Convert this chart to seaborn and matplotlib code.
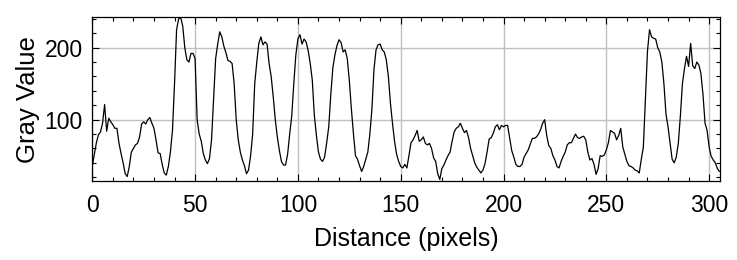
import matplotlib
matplotlib.use("Agg")
import matplotlib.pyplot as plt
from matplotlib.ticker import MultipleLocator
import numpy as np
import pandas as pd
import seaborn as sns

# профиль яркости вдоль линии
gray_values = [
    35, 52, 68, 79, 83, 95, 121, 84, 102, 97,
    93, 88, 88, 67, 53, 40, 25, 21, 35, 55,
    60, 65, 67, 76, 94, 97, 94, 100, 103, 95,
    88, 72, 54, 53, 38, 26, 23, 35, 55, 85,
    150, 225, 240, 242, 230, 200, 183, 180, 192, 192,
    185, 100, 80, 70, 53, 44, 39, 46, 72, 130,
    185, 205, 222, 215, 202, 193, 182, 181, 178, 150,
    100, 72, 55, 44, 36, 25, 30, 50, 80, 150,
    180, 206, 215, 204, 208, 205, 178, 160, 132, 100,
    76, 57, 42, 37, 37, 52, 80, 105, 150, 190,
    212, 218, 205, 212, 208, 196, 178, 155, 106, 78,
    55, 45, 42, 48, 68, 90, 135, 172, 190, 203,
    211, 207, 194, 197, 185, 155, 115, 81, 50, 45,
    36, 28, 35, 45, 55, 80, 115, 170, 197, 204,
    205, 197, 194, 183, 160, 123, 95, 70, 52, 42,
    35, 33, 38, 33, 50, 68, 72, 78, 85, 70,
    72, 76, 67, 65, 67, 60, 47, 42, 25, 17,
    32, 37, 44, 50, 55, 70, 83, 88, 90, 95,
    88, 82, 85, 75, 60, 50, 40, 34, 30, 26,
    30, 39, 55, 73, 75, 81, 90, 93, 86, 92,
    90, 92, 92, 74, 57, 48, 38, 35, 35, 38,
    48, 53, 58, 66, 74, 74, 76, 80, 86, 95,
    100, 78, 64, 60, 50, 44, 35, 33, 42, 49,
    55, 65, 68, 68, 74, 80, 75, 74, 76, 77,
    72, 55, 44, 46, 38, 24, 32, 50, 49, 51,
    58, 68, 85, 83, 81, 72, 78, 88, 62, 52,
    42, 36, 35, 33, 30, 29, 26, 45, 62, 130,
    195, 225, 215, 213, 212, 200, 194, 180, 150, 108,
    90, 67, 45, 40, 48, 67, 105, 150, 171, 188,
    174, 206, 175, 171, 180, 176, 164, 135, 95, 85,
    62, 49, 44, 40, 32, 28,
]
distance = list(range(len(gray_values)))

df = pd.DataFrame({"Distance (pixels)": distance, "Gray Value": gray_values})

sns.set_style("ticks")
plt.rcParams["font.family"] = ["Liberation Sans", "DejaVu Sans"]
plt.rcParams["text.color"] = "black"
plt.rcParams["axes.labelcolor"] = "black"

fig = plt.figure(figsize=(7.37, 2.6), dpi=100)
ax = fig.add_axes([0.1252, 0.3027, 0.977 - 0.1252, 0.9335 - 0.3027])

sns.lineplot(data=df, x="Distance (pixels)", y="Gray Value", ax=ax,
             color="black", linewidth=0.9)

ax.set_xlim(0, 305.3)
ax.set_ylim(14.4, 242.2)

ax.xaxis.set_major_locator(MultipleLocator(50))
ax.xaxis.set_minor_locator(MultipleLocator(10))
ax.yaxis.set_major_locator(MultipleLocator(100))
ax.yaxis.set_minor_locator(MultipleLocator(20))

ax.grid(True, which="major", color="#c0c0c0", linewidth=1.0)
ax.set_axisbelow(True)

ax.tick_params(which="both", direction="in", top=True, right=True,
               labelsize=16.5, width=0.8, colors="black")
ax.tick_params(axis="x", pad=9)
ax.tick_params(axis="y", pad=7)
ax.tick_params(which="major", length=5)
ax.tick_params(which="minor", length=2.8)

for s in ax.spines.values():
    s.set_linewidth(0.9)
    s.set_color("black")

ax.set_xlabel("Distance (pixels)", fontsize=18, labelpad=7)
ax.set_ylabel("Gray Value", fontsize=18.5, labelpad=3)

fig.savefig("out.png", dpi=100)
